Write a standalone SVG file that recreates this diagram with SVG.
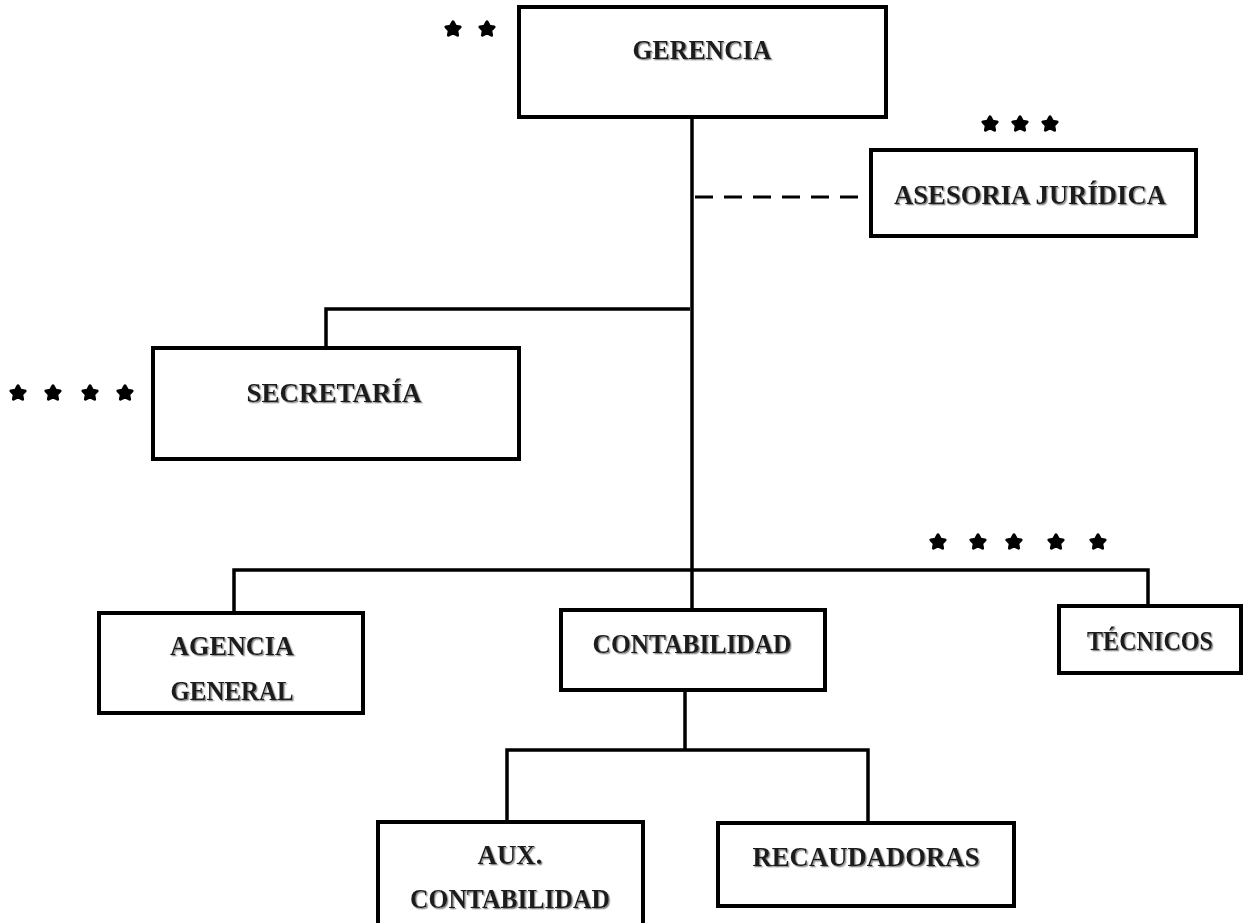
<svg xmlns="http://www.w3.org/2000/svg" width="1249" height="923" viewBox="0 0 1249 923">
<style>
.box{fill:#fff;stroke:#000;stroke-width:4}
.ln{stroke:#000;stroke-width:3.5;fill:none}
.dash{stroke:#000;stroke-width:3;fill:none;stroke-dasharray:18 11}
.t{font-family:"Liberation Serif",serif;font-size:28px;font-weight:bold;fill:#1a1a1a;text-anchor:middle;filter:url(#sh)}
.star{fill:#000;stroke:#000;stroke-width:3;stroke-linejoin:round}
</style>
<defs>
<filter id="sh" x="-5%" y="-20%" width="110%" height="140%">
<feDropShadow dx="1.3" dy="1.3" stdDeviation="0.3" flood-color="#8a8a8a"/>
</filter>
<path id="st" class="star" d="M0,-7.2 L2.5,-2.7 L7.1,-2.1 L3.7,1.5 L4.6,6.2 L0,4 L-4.6,6.2 L-3.7,1.5 L-7.1,-2.1 L-2.5,-2.7 Z"/>
</defs>
<g id="connectors">
<line class="ln" x1="692" y1="117" x2="692" y2="610"/>
<line class="dash" x1="695" y1="197" x2="871" y2="197"/>
<polyline class="ln" points="690,309 326,309 326,348"/>
<polyline class="ln" points="234,613 234,570 1148,570 1148,606"/>
<line class="ln" x1="685" y1="690" x2="685" y2="750"/>
<polyline class="ln" points="507,822 507,750 868,750 868,823"/>
</g>
<g id="gerencia">
<rect class="box" x="519" y="7" width="367" height="110"/>
<text class="t" x="702" y="59" textLength="139" lengthAdjust="spacingAndGlyphs">GERENCIA</text>
</g>
<g id="asesoria">
<rect class="box" x="871" y="150" width="325" height="86"/>
<text class="t" x="1030" y="204" textLength="272" lengthAdjust="spacingAndGlyphs">ASESORIA JURÍDICA</text>
</g>
<g id="secretaria">
<rect class="box" x="153" y="348" width="366" height="111"/>
<text class="t" x="334" y="402" textLength="175" lengthAdjust="spacingAndGlyphs">SECRETARÍA</text>
</g>
<g id="agencia">
<rect class="box" x="99" y="613" width="264" height="100"/>
<text class="t" x="232" y="655" textLength="124" lengthAdjust="spacingAndGlyphs">AGENCIA</text>
<text class="t" x="232" y="700" textLength="123" lengthAdjust="spacingAndGlyphs">GENERAL</text>
</g>
<g id="contabilidad">
<rect class="box" x="561" y="610" width="264" height="80"/>
<text class="t" x="692" y="653" textLength="199" lengthAdjust="spacingAndGlyphs">CONTABILIDAD</text>
</g>
<g id="tecnicos">
<rect class="box" x="1059" y="606" width="182" height="67"/>
<text class="t" x="1150" y="650" textLength="126" lengthAdjust="spacingAndGlyphs">TÉCNICOS</text>
</g>
<g id="aux">
<rect class="box" x="378" y="822" width="265" height="110"/>
<text class="t" x="510" y="864" textLength="65" lengthAdjust="spacingAndGlyphs">AUX.</text>
<text class="t" x="510" y="908" textLength="200" lengthAdjust="spacingAndGlyphs">CONTABILIDAD</text>
</g>
<g id="recaudadoras">
<rect class="box" x="718" y="823" width="296" height="83"/>
<text class="t" x="866" y="866" textLength="227" lengthAdjust="spacingAndGlyphs">RECAUDADORAS</text>
</g>
<g id="stars">
<use href="#st" x="453" y="29"/><use href="#st" x="487" y="29"/>
<use href="#st" x="990" y="124"/><use href="#st" x="1020" y="124"/><use href="#st" x="1050" y="124"/>
<use href="#st" x="18" y="393"/><use href="#st" x="53" y="393"/><use href="#st" x="90" y="393"/><use href="#st" x="125" y="393"/>
<use href="#st" x="938" y="542"/><use href="#st" x="978" y="542"/><use href="#st" x="1014" y="542"/><use href="#st" x="1056" y="542"/><use href="#st" x="1098" y="542"/>
</g>
</svg>
